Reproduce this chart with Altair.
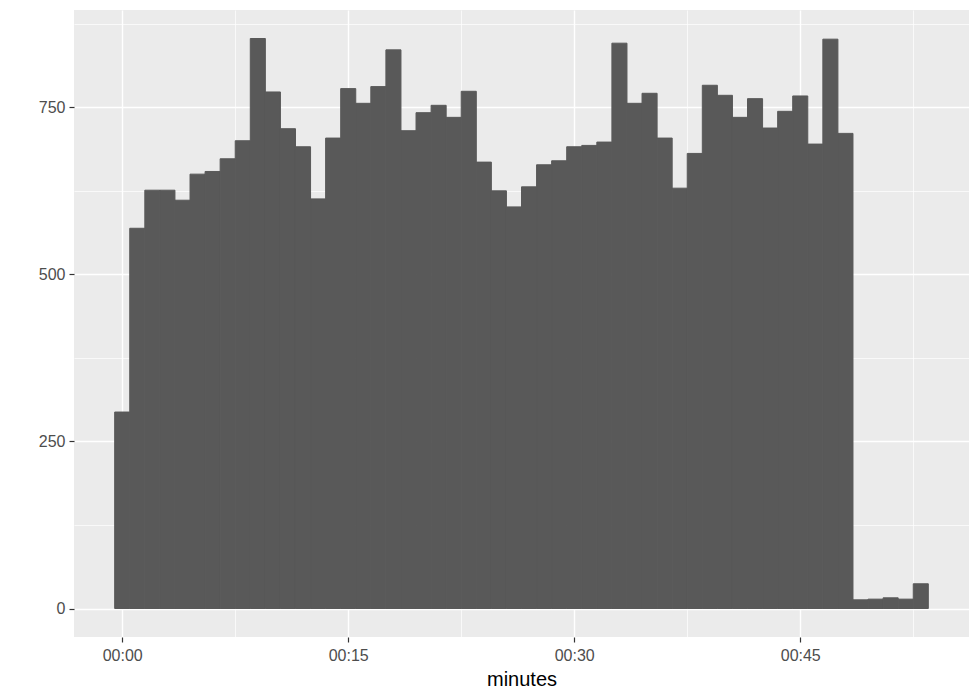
import altair as alt
import pandas as pd

# Histogram bins (1-minute wide, centred on whole minutes) and counts
minute_bins = list(range(54))
counts = [294, 569, 626, 626, 611, 650, 654, 673, 700, 853,
          773, 718, 691, 613, 704, 778, 756, 781, 836, 715,
          742, 753, 735, 774, 668, 625, 601, 631, 664, 670,
          691, 693, 698, 846, 756, 771, 704, 629, 681, 783,
          768, 735, 763, 719, 744, 767, 695, 852, 711, 13,
          14, 16, 14, 37]

x_ticks = [0, 7.5, 15, 22.5, 30, 37.5, 45, 52.5]
y_ticks = [0, 125, 250, 375, 500, 625, 750, 875]

df = pd.DataFrame({"minute": minute_bins, "count": counts})
df["start"] = df["minute"] - 0.5
df["end"] = df["minute"] + 0.5

xlo, xhi = df["start"].min(), df["end"].max()
span = xhi - xlo
x_domain = [float(xlo - 0.05 * span), float(xhi + 0.05 * span)]
ymax = max(counts)
y_domain = [-0.05 * ymax, 1.05 * ymax]

FONT = "Liberation Sans"

x_axis = alt.Axis(
    values=x_ticks,
    labelExpr="datum.value % 15 === 0 ? '00:' + (datum.value < 10 ? '0' : '') + datum.value : ''",
    grid=True,
    gridColor="white",
    gridWidth={"condition": {"test": "datum.value % 15 === 0", "value": 1.4}, "value": 0.7},
    tickOpacity={"condition": {"test": "datum.value % 15 === 0", "value": 1}, "value": 0},
    tickColor="#333333",
    tickWidth=1.2,
    tickSize=5,
    labelPadding=5,
    labelFont=FONT,
    labelFontSize=16,
    labelColor="#4D4D4D",
    domain=False,
    title="minutes",
    titleFont=FONT,
    titleFontSize=20,
    titleFontWeight="normal",
    titleColor="black",
    titlePadding=6,
)

y_axis = alt.Axis(
    values=y_ticks,
    labelExpr="datum.value % 250 === 0 ? '' + datum.value : ''",
    grid=True,
    gridColor="white",
    gridWidth={"condition": {"test": "datum.value % 250 === 0", "value": 1.4}, "value": 0.7},
    tickOpacity={"condition": {"test": "datum.value % 250 === 0", "value": 1}, "value": 0},
    tickColor="#333333",
    tickWidth=1.2,
    tickSize=5,
    labelPadding=4,
    labelFont=FONT,
    labelFontSize=16,
    labelColor="#4D4D4D",
    domain=False,
    title=None,
)

chart = (
    alt.Chart(df)
    .mark_bar(color="#595959", stroke="#595959", strokeWidth=1,
              binSpacing=0, orient="vertical")
    .encode(
        x=alt.X("start:Q", scale=alt.Scale(domain=x_domain, nice=False, zero=False, padding=0), axis=x_axis),
        x2="end:Q",
        y=alt.Y("count:Q", scale=alt.Scale(domain=y_domain, nice=False, zero=False, padding=0), axis=y_axis),
        y2=alt.datum(0),
    )
    .properties(
        width=895,
        height=627,
        autosize=alt.AutoSizeParams(type="none"),
        padding={"left": 66, "top": 2, "right": 0, "bottom": 60},
        background="white",
    )
    .configure_view(fill="#EBEBEB", stroke=None)
    .configure_scale(continuousPadding=0)
)

chart.save("out.html", embed_options={"renderer": "svg", "actions": False})
